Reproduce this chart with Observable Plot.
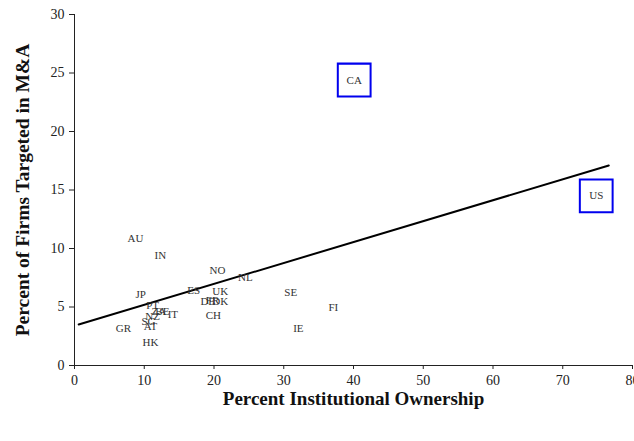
<!DOCTYPE html>
<html>
<head>
<meta charset="utf-8">
<script src="https://cdn.jsdelivr.net/npm/d3@7"></script>
<script src="https://cdn.jsdelivr.net/npm/@observablehq/plot@0.6"></script>
<style>
  html, body { margin: 0; padding: 0; background: #fff; }
</style>
</head>
<body>
<div id="chart"></div>
<script>
const countries = ["AU","IN","NO","NL","JP","ES","UK","FR","DE","DK","CH","SE","FI","IE","PT","ZA","BE","IT","NZ","SG","AT","GR","HK","CA","US"];
const ownership = [8.75,12.3,20.5,24.5,9.5,17.1,20.9,19.8,19.1,20.9,19.9,31.0,37.1,32.1,11.2,12.1,12.6,14.1,11.2,10.6,10.9,7.0,10.9,40.1,74.8];
const targeted  = [10.85,9.4,8.1,7.5,6.1,6.4,6.3,5.6,5.5,5.5,4.3,6.2,5.0,3.2,5.1,4.6,4.6,4.4,4.2,3.8,3.3,3.2,2.0,24.4,14.5];
const boxed = ["CA","US"];
const fitX = [0.6, 76.6];
const fitY = [3.5, 17.1];
const xTicks = [0,10,20,30,40,50,60,70,80];
const yTicks = [0,5,10,15,20,25,30];
const xTitle = "Percent Institutional Ownership";
const yTitle = "Percent of Firms Targeted in M&A";

const data = countries.map((c, i) => ({country: c, x: ownership[i], y: targeted[i]}));
const boxData = data.filter(d => boxed.includes(d.country));
const fit = fitX.map((x, i) => ({x, y: fitY[i]}));

const chart = Plot.plot({
  width: 634,
  height: 441,
  marginLeft: 74,
  marginRight: 2,
  marginTop: 14,
  marginBottom: 76,
  style: {fontFamily: "'Liberation Serif', 'DejaVu Serif', serif", fontSize: "14px", background: "#fff", color: "#222"},
  x: {domain: [0, 80]},
  y: {domain: [0, 30]},
  marks: [
    Plot.ruleX([0], {stroke: "#222"}),
    Plot.ruleY([0], {stroke: "#222"}),
    Plot.axisY({ticks: yTicks, tickSize: 5, tickPadding: 5, label: null, fontSize: 14}),
    Plot.axisX({ticks: xTicks, tickSize: 4, tickPadding: 6, label: null, fontSize: 14}),
    Plot.line(fit, {x: "x", y: "y", stroke: "#000", strokeWidth: 2}),
    Plot.dot(boxData, {x: "x", y: "y", symbol: "square", r: 18.5, stroke: "#0000ee", strokeWidth: 2, fill: "none"}),
    Plot.text(data, {x: "x", y: "y", text: "country", fill: "#333", fontSize: 11}),
    Plot.text([xTitle], {frameAnchor: "bottom", dy: 39, fontSize: 19, fontWeight: "bold", fill: "#111", textAnchor: "middle"}),
    Plot.text([yTitle], {frameAnchor: "left", dx: -52, rotate: -90, fontSize: 19.5, fontWeight: "bold", fill: "#111", textAnchor: "middle"})
  ]
});
document.getElementById("chart").appendChild(chart);
</script>
</body>
</html>
